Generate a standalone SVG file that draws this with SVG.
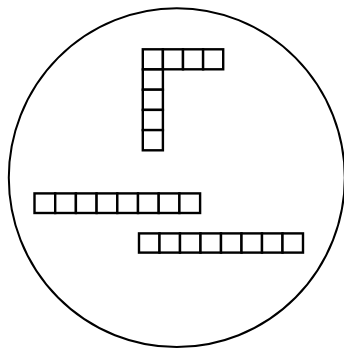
<svg xmlns="http://www.w3.org/2000/svg" width="344" height="349" viewBox="0 0 344 349">
<style>
.c{fill:#fff;stroke:#000;stroke-width:2.4}
.o{fill:none;stroke:#000;stroke-width:2}
</style>
<rect width="344" height="349" fill="#fff"/>
<g id="circle"><ellipse class="o" cx="176.8" cy="177.7" rx="168" ry="169.4"/></g>
<g id="lshape">
<rect class="c" x="142.8" y="49.3" width="20.1" height="20"/>
<rect class="c" x="162.9" y="49.3" width="20.1" height="20"/>
<rect class="c" x="183" y="49.3" width="20.1" height="20"/>
<rect class="c" x="203.1" y="49.3" width="20.1" height="20"/>
<rect class="c" x="142.8" y="69.5" width="20.1" height="20.2"/>
<rect class="c" x="142.8" y="89.7" width="20.1" height="20.2"/>
<rect class="c" x="142.8" y="109.9" width="20.1" height="20.2"/>
<rect class="c" x="142.8" y="130.1" width="20.1" height="20.2"/>
</g>
<g id="row1">
<rect class="c" x="34.5" y="193.4" width="20.7" height="19.6"/>
<rect class="c" x="55.2" y="193.4" width="20.7" height="19.6"/>
<rect class="c" x="75.9" y="193.4" width="20.7" height="19.6"/>
<rect class="c" x="96.6" y="193.4" width="20.7" height="19.6"/>
<rect class="c" x="117.3" y="193.4" width="20.7" height="19.6"/>
<rect class="c" x="138" y="193.4" width="20.7" height="19.6"/>
<rect class="c" x="158.7" y="193.4" width="20.7" height="19.6"/>
<rect class="c" x="179.4" y="193.4" width="20.7" height="19.6"/>
</g>
<g id="row2">
<rect class="c" x="139" y="233.4" width="20.5" height="19.2"/>
<rect class="c" x="159.5" y="233.4" width="20.5" height="19.2"/>
<rect class="c" x="180" y="233.4" width="20.5" height="19.2"/>
<rect class="c" x="200.5" y="233.4" width="20.5" height="19.2"/>
<rect class="c" x="221" y="233.4" width="20.5" height="19.2"/>
<rect class="c" x="241.5" y="233.4" width="20.5" height="19.2"/>
<rect class="c" x="262" y="233.4" width="20.5" height="19.2"/>
<rect class="c" x="282.5" y="233.4" width="20.5" height="19.2"/>
</g>
</svg>
